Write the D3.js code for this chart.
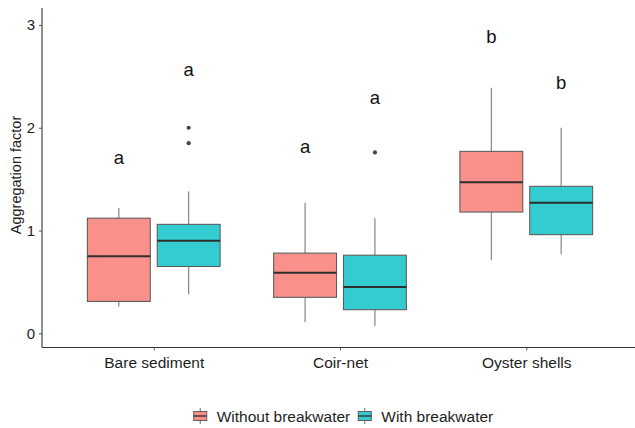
<!DOCTYPE html>
<html>
<head>
<meta charset="utf-8">
<script src="https://cdn.jsdelivr.net/npm/d3@7"></script>
<style>
  html, body { margin: 0; padding: 0; background: #fff; }
  svg { display: block; font-family: "Liberation Sans", Arial, sans-serif; }
</style>
</head>
<body>
<svg id="chart" width="635" height="428"></svg>
<script>
// Substrate categories and breakwater treatment groups
const categories = ["Bare sediment", "Coir-net", "Oyster shells"];
const groups = ["Without breakwater", "With breakwater"];

// Box statistics, one value per category
const withoutLower  = [0.26, 0.11, 0.71];
const withoutQ1     = [0.31, 0.35, 1.18];
const withoutMedian = [0.75, 0.59, 1.47];
const withoutQ3     = [1.12, 0.78, 1.77];
const withoutUpper  = [1.22, 1.27, 2.39];
const withoutOutliers = [[], [], []];

const withLower  = [0.38, 0.07, 0.77];
const withQ1     = [0.65, 0.23, 0.96];
const withMedian = [0.90, 0.45, 1.27];
const withQ3     = [1.06, 0.76, 1.43];
const withUpper  = [1.38, 1.12, 2.00];
const withOutliers = [[1.85, 2.00], [1.76], []];

// Significance letters and the value at which each sits
const withoutLetters = ["a", "a", "b"];
const withoutLetterY = [1.65, 1.75, 2.82];
const withLetters = ["a", "a", "b"];
const withLetterY = [2.50, 2.23, 2.38];

const yTicks = [0, 1, 2, 3];
const yLabel = "Aggregation factor";

const fills = ["#F9918A", "#33CCD0"];

// Build one record per box
const series = [
  { lower: withoutLower, q1: withoutQ1, med: withoutMedian, q3: withoutQ3, upper: withoutUpper,
    out: withoutOutliers, letters: withoutLetters, letterY: withoutLetterY },
  { lower: withLower, q1: withQ1, med: withMedian, q3: withQ3, upper: withUpper,
    out: withOutliers, letters: withLetters, letterY: withLetterY }
];
const boxes = [];
series.forEach((s, gi) => {
  categories.forEach((c, ci) => {
    boxes.push({ cat: c, group: groups[gi], gi,
      lower: s.lower[ci], q1: s.q1[ci], med: s.med[ci], q3: s.q3[ci], upper: s.upper[ci],
      out: s.out[ci], letter: s.letters[ci], letterY: s.letterY[ci] });
  });
});

const svg = d3.select("#chart");
const panel = { left: 42, right: 638, top: 8, bottom: 347.5 };

const x = d3.scalePoint().domain(categories).range([panel.left, panel.right]).padding(0.6);
const dodgeW = x.step() * 0.75;
const xg = d3.scaleBand().domain(groups).range([-dodgeW / 2, dodgeW / 2]).padding(0);
const boxW = xg.bandwidth() * 0.9;
const y = d3.scaleLinear().domain([-0.138, 3.165]).range([panel.bottom, panel.top]);

const cx = d => x(d.cat) + xg(d.group) + xg.bandwidth() / 2;

const g = svg.append("g");

// Whiskers
g.selectAll("line.whisker").data(boxes).join("line")
  .attr("class", "whisker")
  .attr("x1", cx).attr("x2", cx)
  .attr("y1", d => y(d.upper)).attr("y2", d => y(d.lower))
  .attr("stroke", "#7a7a7a").attr("stroke-width", 1.1);

// Boxes
g.selectAll("rect.box").data(boxes).join("rect")
  .attr("class", "box")
  .attr("x", d => cx(d) - boxW / 2)
  .attr("width", boxW)
  .attr("y", d => y(d.q3))
  .attr("height", d => y(d.q1) - y(d.q3))
  .attr("fill", d => fills[d.gi])
  .attr("stroke", "#5e5e5e").attr("stroke-width", 1.1);

// Medians
g.selectAll("line.median").data(boxes).join("line")
  .attr("class", "median")
  .attr("x1", d => cx(d) - boxW / 2).attr("x2", d => cx(d) + boxW / 2)
  .attr("y1", d => y(d.med)).attr("y2", d => y(d.med))
  .attr("stroke", "#2e2e2e").attr("stroke-width", 2);

// Outliers
const outPts = boxes.flatMap(d => d.out.map(v => ({ d, v })));
g.selectAll("circle.outlier").data(outPts).join("circle")
  .attr("class", "outlier")
  .attr("cx", p => cx(p.d)).attr("cy", p => y(p.v)).attr("r", 2.1)
  .attr("fill", "#444");

// Letters above boxes
g.selectAll("text.letter").data(boxes).join("text")
  .attr("class", "letter")
  .attr("x", cx).attr("y", d => y(d.letterY))
  .attr("text-anchor", "middle")
  .attr("font-size", 18.5).attr("fill", "#111")
  .text(d => d.letter);

// Y axis
const yAxis = svg.append("g").attr("transform", `translate(${panel.left},0)`)
  .call(d3.axisLeft(y).tickValues(yTicks).tickFormat(d3.format("d")).tickSize(3).tickPadding(4));
yAxis.select(".domain").attr("d", `M0,${panel.top}V${panel.bottom}`).attr("stroke", "#333").attr("stroke-width", 1.1);
yAxis.selectAll(".tick line").attr("stroke", "#555");
yAxis.selectAll(".tick text").attr("font-size", 15).attr("fill", "#1e1e1e").attr("font-family", "Liberation Sans, Arial, sans-serif");

// X axis
const xAxis = svg.append("g").attr("transform", `translate(0,${panel.bottom})`)
  .call(d3.axisBottom(x).tickSize(3).tickPadding(6));
xAxis.select(".domain").attr("d", `M${panel.left},0H${panel.right}`).attr("stroke", "#333").attr("stroke-width", 1.1);
xAxis.selectAll(".tick line").attr("stroke", "#555");
xAxis.selectAll(".tick text").attr("font-size", 15.5).attr("fill", "#1e1e1e").attr("font-family", "Liberation Sans, Arial, sans-serif");

// Y axis title
svg.append("text")
  .attr("transform", `translate(21,175) rotate(-90)`)
  .attr("text-anchor", "middle")
  .attr("font-size", 14.5).attr("fill", "#1e1e1e")
  .text(yLabel);

// Legend
const legend = svg.append("g");
const keyW = 17, gapKeyText = 8, gapItems = 6, legendY = 416, legendFont = 15.5;
const items = groups.map((name, i) => ({ name, i }));
const tmp = legend.selectAll("text.tmp").data(items).join("text")
  .attr("font-size", legendFont).text(d => d.name);
const widths = [];
tmp.each(function () { widths.push(this.getComputedTextLength()); });
tmp.remove();
const total = items.reduce((s, d, i) => s + keyW + gapKeyText + widths[i], 0) + gapItems;
let cursor = 342.5 - total / 2;
items.forEach((d, i) => {
  const kx = cursor + keyW / 2;
  legend.append("line")
    .attr("x1", kx).attr("x2", kx).attr("y1", legendY - 8).attr("y2", legendY + 8)
    .attr("stroke", "#7a7a7a").attr("stroke-width", 1.1);
  legend.append("rect")
    .attr("x", kx - 6.5).attr("y", legendY - 4.5).attr("width", 13).attr("height", 9)
    .attr("fill", fills[i]).attr("stroke", "#5e5e5e").attr("stroke-width", 1);
  legend.append("line")
    .attr("x1", kx - 6.5).attr("x2", kx + 6.5).attr("y1", legendY).attr("y2", legendY)
    .attr("stroke", "#2e2e2e").attr("stroke-width", 1.4);
  legend.append("text")
    .attr("x", cursor + keyW + gapKeyText).attr("y", legendY + 6)
    .attr("font-size", legendFont).attr("fill", "#1e1e1e")
    .text(d.name);
  cursor += keyW + gapKeyText + widths[i] + gapItems;
});
</script>
</body>
</html>
